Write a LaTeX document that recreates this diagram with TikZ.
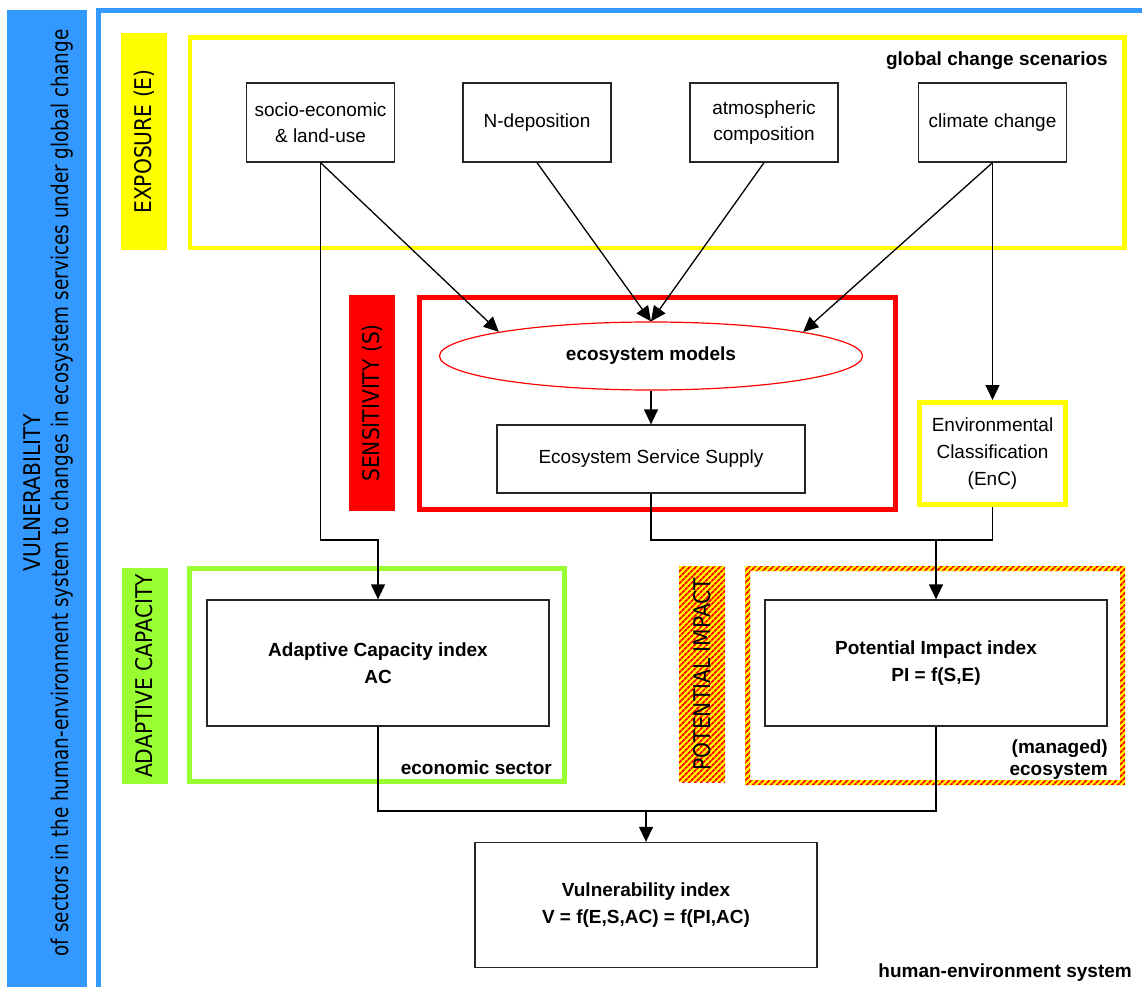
\documentclass[tikz,border=0pt]{standalone}
\usepackage{fontspec}
\setmainfont{Liberation Sans}
\newfontfamily\vfont{DejaVu Sans}[FakeStretch=0.88]
\newfontfamily\vfontb{DejaVu Sans}[FakeStretch=0.80]
\usetikzlibrary{shapes.geometric,arrows.meta,patterns.meta}
\definecolor{vblue}{RGB}{51,153,255}
\definecolor{vyel}{RGB}{255,255,0}
\definecolor{vred}{RGB}{255,0,0}
\definecolor{vgreen}{RGB}{153,255,51}
\begin{document}
\begin{tikzpicture}[x=1pt,y=-1pt,
  box/.style={draw=black!85, line width=1.3pt, fill=white, align=center, inner sep=0pt,
    font=\fontsize{19}{26}\selectfont},
  bbox/.style={box, font=\fontsize{19}{27}\selectfont\bfseries},
  arr/.style={line width=1.3pt, -{Triangle[length=15pt,width=14pt]}},
  con/.style={line width=1.3pt},
  lab/.style={font=\fontsize{19}{23}\selectfont\bfseries, inner sep=0pt},
  vlab/.style={rotate=90, font=\vfont\fontsize{23}{28}\selectfont, inner sep=0pt,
    minimum width=216pt, minimum height=46pt},
  stripes/.style={pattern={Lines[angle=45,distance=4pt,line width=2pt]}, pattern color=vred},
  hatch/.style={preaction={fill=vyel}, stripes},
]
\useasboundingbox (0,0) rectangle (1142,987);

% human-environment system frame and vulnerability bar
\fill[vblue] (7,10) rectangle (87,987);
\draw[vblue, line width=5pt] (98.5,987) -- (98.5,10.5) -- (1142,10.5);
\node[rotate=90, align=center, inner sep=0pt, font=\fontsize{23}{28}\selectfont] (vul) at (49,493)
  {{\vfont VULNERABILITY}\\{\vfontb of sectors in the human-environment system to changes in ecosystem services under global change}};
\node[lab, anchor=base east] (hes) at (1132,977) {human-environment system};

% exposure
\node[vlab, fill=vyel] (expo) at (144,141.5) {EXPOSURE (E)};
\node[draw=vyel, line width=4.5pt, minimum width=934.5pt, minimum height=210.5pt, inner sep=0pt] (expframe) at (657.25,142.75) {};
\node[lab, anchor=base east] (gcs) at (1108,66) {global change scenarios};
\node[box, minimum width=148pt, minimum height=79pt] (socio) at (320.5,122.5) {socio-economic\\\& land-use};
\node[box, minimum width=148pt, minimum height=79pt] (ndep) at (537,122.5) {N-deposition};
\node[box, minimum width=148pt, minimum height=79pt] (atm) at (764,122.5) {atmospheric\\composition};
\node[box, minimum width=148pt, minimum height=79pt] (clim) at (992.5,122.5) {climate change};

% sensitivity
\node[vlab, fill=vred] (sens) at (372,403) {SENSITIVITY (S)};
\node[draw=vred, line width=5pt, minimum width=476pt, minimum height=211.5pt, inner sep=0pt] (sensframe) at (657.5,403.25) {};
\node[ellipse, draw=vred, line width=1.2pt, fill=white, minimum width=423pt, minimum height=68pt, inner sep=0pt,
  font=\fontsize{19}{23}\selectfont\bfseries] (ell) at (651,356) {ecosystem models};
\node[box, minimum width=308pt, minimum height=68pt] (ess) at (651,459) {Ecosystem Service Supply};
\node[box, draw=vyel, line width=5pt, minimum width=146pt, minimum height=102pt, font=\fontsize{19}{27}\selectfont] (enc) at (992.5,453.5)
  {Environmental\\Classification\\(EnC)};

% adaptive capacity
\node[vlab, fill=vgreen] (adap) at (144.5,676) {ADAPTIVE CAPACITY};
\node[draw=vgreen, line width=5pt, minimum width=375pt, minimum height=213pt, inner sep=0pt] (adframe) at (377,675) {};
\node[bbox, minimum width=342pt, minimum height=126pt] (ac) at (378,663) {Adaptive Capacity index\\AC};
\node[lab, anchor=base east] (econ) at (552,774) {economic sector};

% potential impact
\node[vlab, hatch] (pot) at (702,674) {POTENTIAL IMPACT};
\fill[vyel, even odd rule] (745,566) rectangle (1125,785) (750,571) rectangle (1120,780);
\fill[stripes, even odd rule] (745,566) rectangle (1125,785) (750,571) rectangle (1120,780);
\node[bbox, minimum width=342pt, minimum height=126pt] (pi) at (936,663) {Potential Impact index\\PI = f(S,E)};
\node[lab, anchor=base east] (man) at (1108,753) {(managed)};
\node[lab, anchor=base east] (ecos) at (1108,775) {ecosystem};

% vulnerability index
\node[bbox, minimum width=342pt, minimum height=125pt] (v) at (646,905) {Vulnerability index\\V = f(E,S,AC) = f(PI,AC)};

% connectors
\coordinate (j1) at (320.5,540);
\coordinate (j2) at (936,540);
\coordinate (j3) at (646,811);
\draw[arr] (socio.south) -- (ell.171);
\draw[arr] (ndep.south) -- (ell.north);
\draw[arr] (atm.south) -- (ell.north);
\draw[arr] (clim.south) -- (ell.9);
\draw[arr] (clim.south) -- (enc.north);
\draw[arr] (ell.south) -- (ess.north);
\draw[arr] (socio.south) -- (j1) -| (ac.north);
\draw[con] (ess.south) |- (j2);
\draw[con] (enc.south) |- (j2);
\draw[arr] (j2) -- (pi.north);
\draw[con] (ac.south) |- (j3);
\draw[con] (pi.south) |- (j3);
\draw[arr] (j3) -- (v.north);
\end{tikzpicture}
\end{document}
